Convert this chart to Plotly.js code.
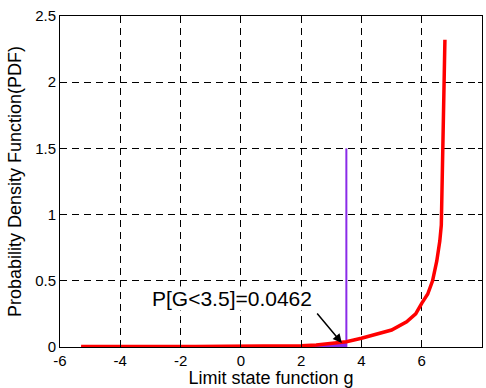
<!DOCTYPE html>
<html>
<head>
<meta charset="utf-8">
<script src="https://cdn.plot.ly/plotly-3.0.1.min.js"></script>
<style>html,body{margin:0;padding:0;background:#fff;}#chart{width:486px;height:388px;}</style>
</head>
<body>
<div id="chart"></div>
<script>
// PDF of limit state function g
const gValues = [-5.3, -4.5, -3.5, -2.5, -1.5, -0.5, 0.5, 1.5, 2, 2.5, 3, 3.5, 4, 4.5, 5, 5.5, 5.8, 6, 6.2, 6.36, 6.5, 6.6, 6.65, 6.7, 6.77];
const pdfValues = [0.004, 0.003, 0.003, 0.004, 0.004, 0.005, 0.006, 0.007, 0.009, 0.015, 0.025, 0.04, 0.066, 0.095, 0.128, 0.19, 0.25, 0.33, 0.4, 0.5, 0.65, 0.8, 0.92, 1.5, 2.32];
const threshold = 3.5;
const markerX = [3.5, 3.5];
const markerY = [0, 1.5];
const probLabel = 'P[G<3.5]=0.0462';
const xTicks = [-6, -4, -2, 0, 2, 4, 6, 8];
const yTicks = [0, 0.5, 1, 1.5, 2, 2.5];
const yTickText = ['0', '0.5', '1', '1.5', '2', '2.5'];

const fillX = [], fillY = [];
for (let i = 0; i < gValues.length; i++) {
  if (gValues[i] <= threshold) { fillX.push(gValues[i]); fillY.push(pdfValues[i]); }
}

const purple = '#8a2be8';
const font = 'Liberation Sans, Arial, sans-serif';

const data = [
  {x: fillX, y: fillY, type: 'scatter', mode: 'lines', fill: 'tozeroy',
   line: {color: purple, width: 1}, fillcolor: purple, hoverinfo: 'skip'},
  {x: markerX, y: markerY, type: 'scatter', mode: 'lines',
   line: {color: purple, width: 2}},
  {x: gValues, y: pdfValues, type: 'scatter', mode: 'lines',
   line: {color: '#ff0000', width: 3.5}}
];

const axisCommon = {
  showline: true, linecolor: '#000', linewidth: 1, mirror: 'ticks',
  ticks: 'inside', ticklen: 4, tickcolor: '#000',
  showgrid: true, gridcolor: '#000', gridwidth: 1, griddash: '7px,5px',
  zeroline: false, tickfont: {family: font, size: 15, color: '#000'}
};

const layout = {
  width: 486, height: 388,
  margin: {l: 60, r: 4, t: 16, b: 41},
  paper_bgcolor: '#fff', plot_bgcolor: '#fff',
  showlegend: false,
  font: {family: font, color: '#000'},
  xaxis: Object.assign({}, axisCommon, {
    range: [-6, 8], tickvals: xTicks, ticktext: xTicks.map(String),
    automargin: false,
    title: {text: 'Limit state function g', font: {family: font, size: 18, color: '#000'}, standoff: 2}
  }),
  yaxis: Object.assign({}, axisCommon, {
    range: [0, 2.5], tickvals: yTicks, ticktext: yTickText,
    automargin: false,
    title: {text: 'Probability Density Function(PDF)', font: {family: font, size: 18, color: '#000'}, standoff: 8}
  }),
  annotations: [
    {x: -0.29, y: 0.37, xref: 'x', yref: 'y', text: probLabel, showarrow: false,
     bgcolor: '#fff', borderpad: 0,
     font: {family: font, size: 21, color: '#000'}},
    {x: 3.35, y: 0.03, xref: 'x', yref: 'y', ax: 2.49, ay: 0.264, axref: 'x', ayref: 'y',
     text: '', showarrow: true, arrowhead: 2, arrowsize: 1.2, arrowwidth: 1.5, arrowcolor: '#000'}
  ]
};

Plotly.newPlot('chart', data, layout, {displayModeBar: false, staticPlot: true});
</script>
</body>
</html>
